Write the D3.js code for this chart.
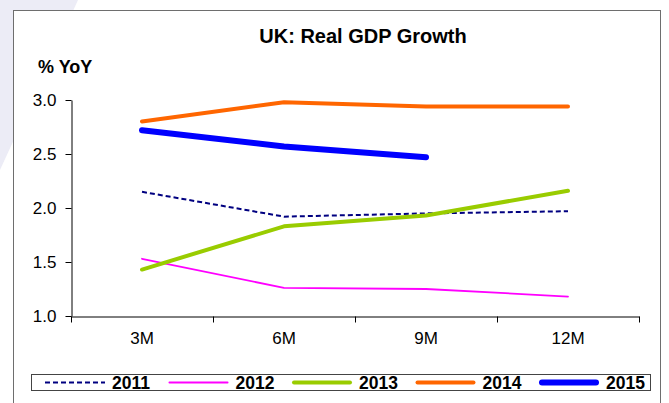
<!DOCTYPE html>
<html>
<head>
<meta charset="utf-8">
<script src="https://cdn.jsdelivr.net/npm/d3@7"></script>
<style>
  html, body { margin: 0; padding: 0; background: #fff; }
  svg { display: block; font-family: "Liberation Sans", Arial, sans-serif; }
</style>
</head>
<body>
<svg id="chart" width="669" height="403"></svg>
<script>
const categories = ["3M", "6M", "9M", "12M"];
const seriesNames = ["2011", "2012", "2013", "2014", "2015"];
const values2011 = [2.15, 1.92, 1.95, 1.97];
const values2012 = [1.53, 1.26, 1.25, 1.18];
const values2013 = [1.43, 1.83, 1.93, 2.16];
const values2014 = [2.80, 2.98, 2.94, 2.94];
const values2015 = [2.72, 2.57, 2.47];
const yTicks = [1.0, 1.5, 2.0, 2.5, 3.0];

const seriesValues = [values2011, values2012, values2013, values2014, values2015];
const styles = [
  { color: "#000080", width: 2, dash: "5,3", cap: "butt" },
  { color: "#FF00FF", width: 1.8, dash: null, cap: "round" },
  { color: "#99CC00", width: 4, dash: null, cap: "round" },
  { color: "#FF6600", width: 4, dash: null, cap: "round" },
  { color: "#0000FF", width: 6, dash: null, cap: "round" }
];

const svg = d3.select("#chart");

// background decoration
svg.append("polygon")
  .attr("points", "0,0 78,0 0,170")
  .attr("fill", "#ECECF6");

// outer box
svg.append("rect")
  .attr("x", 13.5).attr("y", 10.5)
  .attr("width", 647).attr("height", 400)
  .attr("fill", "#fff")
  .attr("stroke", "#6e6e6e").attr("stroke-width", 1);

// title
svg.append("text")
  .attr("x", 363).attr("y", 42.5)
  .attr("text-anchor", "middle")
  .attr("font-size", 20).attr("font-weight", "bold")
  .text("UK: Real GDP Growth");

svg.append("text")
  .attr("x", 38).attr("y", 73)
  .attr("font-size", 18).attr("font-weight", "bold")
  .text("% YoY");

const x = d3.scaleBand().domain(categories).range([71, 639]);
const y = d3.scaleLinear().domain([1, 3]).range([316, 100]);
const cx = c => x(c) + x.bandwidth() / 2;

// y axis
const yAxis = svg.append("g")
  .attr("transform", "translate(71.5,0)")
  .call(d3.axisLeft(y).tickValues(yTicks).tickFormat(d3.format(".1f")).tickSize(6).tickSizeOuter(0).tickPadding(9));
yAxis.selectAll("text").attr("font-size", 17).attr("fill", "#000").attr("font-family", "Liberation Sans, Arial, sans-serif");
yAxis.selectAll("line, path").attr("stroke", "#000");

// x axis
const xAxis = svg.append("g")
  .attr("transform", "translate(0,316.5)")
  .call(d3.axisBottom(x).tickSize(0).tickSizeOuter(0).tickPadding(15));
xAxis.selectAll("text").attr("font-size", 17).attr("fill", "#000").attr("font-family", "Liberation Sans, Arial, sans-serif");
xAxis.select("path").attr("stroke", "#000");
const boundaries = categories.map(c => x(c)).concat([x.range()[1]]);
xAxis.selectAll("line.bnd").data(boundaries).enter().append("line")
  .attr("class", "bnd")
  .attr("x1", d => Math.round(d) + 0.5).attr("x2", d => Math.round(d) + 0.5)
  .attr("y1", 0).attr("y2", 6)
  .attr("stroke", "#000");

// lines
const line = d3.line().x((d, i) => cx(categories[i])).y(d => y(d));
seriesValues.forEach((vals, i) => {
  const s = styles[i];
  svg.append("path")
    .datum(vals)
    .attr("d", line)
    .attr("fill", "none")
    .attr("stroke", s.color)
    .attr("stroke-width", s.width)
    .attr("stroke-dasharray", s.dash)
    .attr("stroke-linecap", s.cap)
    .attr("stroke-linejoin", "round");
});

// legend
svg.append("rect")
  .attr("x", 31.5).attr("y", 374.5)
  .attr("width", 619).attr("height", 16)
  .attr("fill", "#fff")
  .attr("stroke", "#444").attr("stroke-width", 1);

seriesNames.forEach((name, i) => {
  const s = styles[i];
  const x0 = 45 + i * 123.5;
  const x1 = x0 + 60;
  svg.append("line")
    .attr("x1", x0 + (s.cap === "round" ? s.width / 2 : 0))
    .attr("x2", x1 - (s.cap === "round" ? s.width / 2 : 0))
    .attr("y1", 382.5).attr("y2", 382.5)
    .attr("stroke", s.color)
    .attr("stroke-width", s.width)
    .attr("stroke-dasharray", s.dash)
    .attr("stroke-linecap", s.cap);
  svg.append("text")
    .attr("x", x1 + 7).attr("y", 388.5)
    .attr("font-size", 17.5).attr("font-weight", "bold")
    .text(name);
});
</script>
</body>
</html>
